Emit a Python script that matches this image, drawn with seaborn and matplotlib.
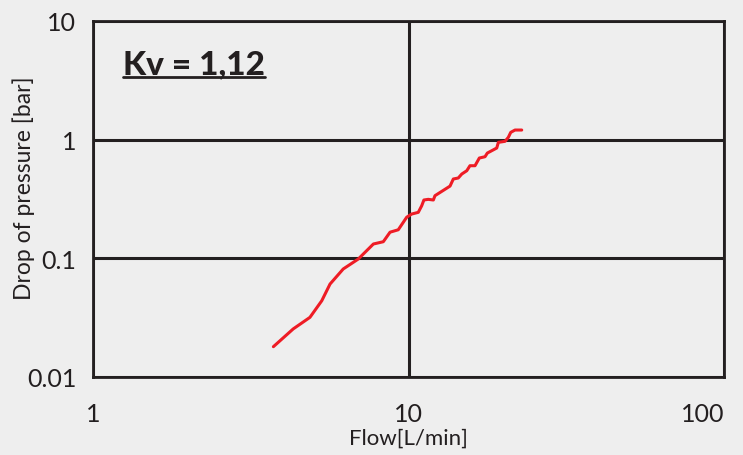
import matplotlib
matplotlib.use("Agg")
import matplotlib.pyplot as plt
import seaborn as sns
import pandas as pd
from matplotlib.lines import Line2D

# flow [L/min] and pressure drop [bar]
flow = [3.73, 4.31, 4.87, 5.31, 5.64, 6.21, 6.93, 7.74, 8.32, 8.74, 9.28,
        9.87, 10.23, 10.74, 11.01, 11.19, 11.55, 11.99, 12.13, 13.54, 13.87,
        14.38, 14.75, 15.30, 15.66, 16.25, 16.77, 17.48, 17.78, 19.04, 19.27,
        20.23, 20.72, 21.09, 21.76, 22.85]
pressure = [0.018, 0.0254, 0.0318, 0.0439, 0.0607, 0.0813, 0.0986, 0.132,
            0.138, 0.166, 0.174, 0.222, 0.236, 0.244, 0.277, 0.310, 0.314,
            0.310, 0.337, 0.406, 0.466, 0.475, 0.513, 0.547, 0.603, 0.603,
            0.700, 0.718, 0.771, 0.850, 0.949, 0.968, 1.045, 1.152, 1.205, 1.205]

x_ticks = [1, 10, 100]
x_tick_labels = ["1", "10", "100"]
y_ticks = [0.01, 0.1, 1, 10]
y_tick_labels = ["0.01", "0.1", "1", "10"]

kv_text = "Kv = 1,12"

bg = "#eeeeee"
ink = "#231f20"

sns.set_style("white", {"axes.facecolor": bg, "figure.facecolor": bg})
plt.rcParams['font.family'] = ['Lato', 'DejaVu Sans']

df = pd.DataFrame({"flow": flow, "pressure": pressure})

fig = plt.figure(figsize=(7.43, 4.56), dpi=100)
ax = fig.add_axes([0.1252, 0.1711, 0.8492, 0.7807])

ax.set_xscale("log")
ax.set_yscale("log")
ax.set_xlim(1, 100)
ax.set_ylim(0.01, 10)

sns.lineplot(data=df, x="flow", y="pressure", sort=False, estimator=None,
             color="#ee1c25", linewidth=2.2, ax=ax, zorder=3)

ax.set_xticks(x_ticks)
ax.set_xticklabels(x_tick_labels)
ax.set_yticks(y_ticks)
ax.set_yticklabels(y_tick_labels)
ax.minorticks_off()
ax.tick_params(axis="both", length=0, labelsize=18, colors=ink)
ax.tick_params(axis="x", pad=18)
ax.tick_params(axis="y", pad=12)
ax.get_xticklabels()[-1].set_horizontalalignment("right")

ax.grid(True, which="major", color=ink, linewidth=2.2)
for s in ax.spines.values():
    s.set_color(ink)
    s.set_linewidth(2.0)

ax.set_xlabel("Flow[L/min]", fontsize=16, color=ink, labelpad=2)
ax.set_ylabel("Drop of pressure [bar]", fontsize=16.5, color=ink)
ax.yaxis.set_label_coords(-0.092, 0.534)

# Kv label with underline
ty = 1 - 74 / 456
t = fig.text(123 / 743, ty, kv_text, fontsize=24, fontweight="black",
             color=ink, va="baseline")
fig.canvas.draw()
bb = t.get_window_extent().transformed(fig.transFigure.inverted())
uy = ty - 4 / 456
fig.add_artist(Line2D([bb.x0, bb.x1], [uy, uy], color=ink, linewidth=2.0,
                      transform=fig.transFigure))

fig.savefig("out.png", dpi=100, facecolor=bg)
